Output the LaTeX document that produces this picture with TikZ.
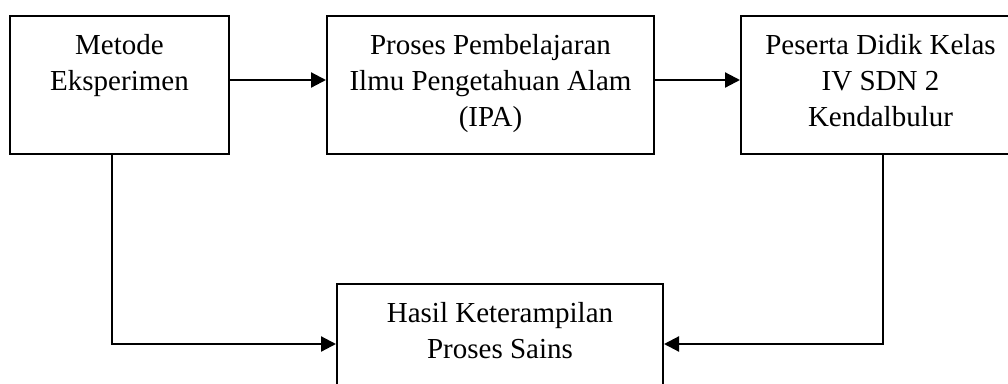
\documentclass[tikz,border=0pt]{standalone}
\usepackage{fontspec}
\setmainfont{Liberation Serif}
\usetikzlibrary{arrows.meta}
\begin{document}
\begin{tikzpicture}[x=1pt,y=-1pt,
  box/.style={draw, line width=2pt, inner sep=0pt, minimum width=#1},
  txt/.style={inner sep=0pt, anchor=north, align=center, font=\fontsize{29}{36}\selectfont},
  arr/.style={line width=2.2pt, -{Triangle[length=15pt,width=15pt]}},
  ln/.style={line width=2.2pt}]
\useasboundingbox (0,0) rectangle (1008,383);
\clip (0,0) rectangle (1008,383);
\coordinate (ay) at (0,80);
\coordinate (ly) at (0,344);
\coordinate (lx) at (112,0);
\coordinate (rx) at (883,0);
\node[box=219, minimum height=138] (b1) at (119.5,85) {};
\node[box=327, minimum height=138] (b2) at (490.5,85) {};
\node[box=279, minimum height=138] (b3) at (880.5,85) {};
\node[box=326, minimum height=138] (b4) at (500,353) {};
\node[txt] (t1) at (119.5,34.5) {Metode\\Eksperimen};
\node[txt] (t2) at (490.5,34.5) {Proses Pembelajaran\\Ilmu Pengetahuan Alam\\(IPA)};
\node[txt] (t3) at (880.5,34.5) {Peserta Didik Kelas\\IV SDN 2\\Kendalbulur};
\node[txt] (t4) at (500,302.5) {Hasil Keterampilan\\Proses Sains};
\draw[arr] (b1.east |- ay) -- (b2.west |- ay);
\draw[arr] (b2.east |- ay) -- (b3.west |- ay);
\draw[arr] (b1.south -| lx) |- (b4.west |- ly);
\draw[arr] (b3.south -| rx) |- (b4.east |- ly);
\end{tikzpicture}
\end{document}
